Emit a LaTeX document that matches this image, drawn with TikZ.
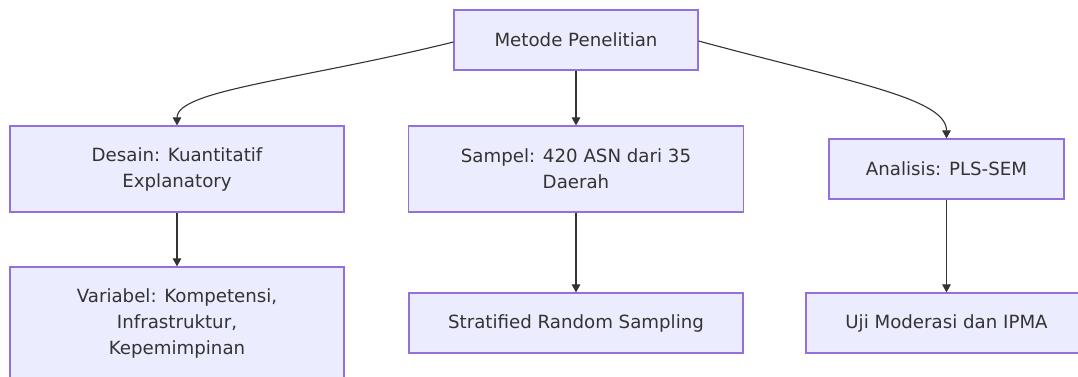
\documentclass[tikz,border=0pt]{standalone}
\usepackage{fontspec}
\setmainfont{DejaVu Sans}
\usetikzlibrary{arrows.meta}
\definecolor{boxfill}{HTML}{ECECFF}
\definecolor{boxline}{HTML}{9370DB}
\definecolor{txt}{HTML}{333333}
\begin{document}
\begin{tikzpicture}[x=1pt,y=-1pt,
  box/.style={draw=boxline,fill=boxfill,line width=1.2pt,text=txt,align=center,
    font=\fontsize{18.2}{26}\selectfont,inner sep=0pt},
  conn/.style={draw=txt,line width=1.1pt,-{Triangle[length=8pt,width=8.5pt]}}]
\useasboundingbox (0,0) rectangle (1078,376);
\clip (0,0) rectangle (1078,376);
\fill[white] (0,0) rectangle (1078,376);
\node[box,minimum width=244pt,minimum height=60pt] (top) at (576,40) {Metode Penelitian};
\node[box,minimum width=334pt,minimum height=86pt] (desain) at (177,169) {Desain: Kuantitatif\\Explanatory};
\node[box,minimum width=335pt,minimum height=86pt] (sampel) at (576,169) {Sampel: 420 ASN dari 35\\Daerah};
\node[box,minimum width=235pt,minimum height=60pt] (analisis) at (946.5,169) {Analisis: PLS-SEM};
\node[box,minimum width=334pt,minimum height=112pt] (variabel) at (177,323) {Variabel: Kompetensi,\\Infrastruktur,\\Kepemimpinan};
\node[box,minimum width=334pt,minimum height=60pt] (strat) at (576,323) {Stratified Random Sampling};
\node[box,minimum width=281pt,minimum height=60pt] (uji) at (946.5,323) {Uji Moderasi dan IPMA};
\coordinate (tl) at ([yshift=-2pt]top.west);
\coordinate (tr) at ([yshift=-1pt]top.east);
\draw[conn] (tl) .. controls (300,80) and (177,90) .. (desain.north);
\draw[conn] (top.south) -- (sampel.north);
\draw[conn] (tr) .. controls (850,82) and (946.5,98) .. (analisis.north);
\draw[conn] (desain.south) -- (variabel.north);
\draw[conn] (sampel.south) -- (strat.north);
\draw[conn] (analisis.south) -- (uji.north);
\end{tikzpicture}
\end{document}
